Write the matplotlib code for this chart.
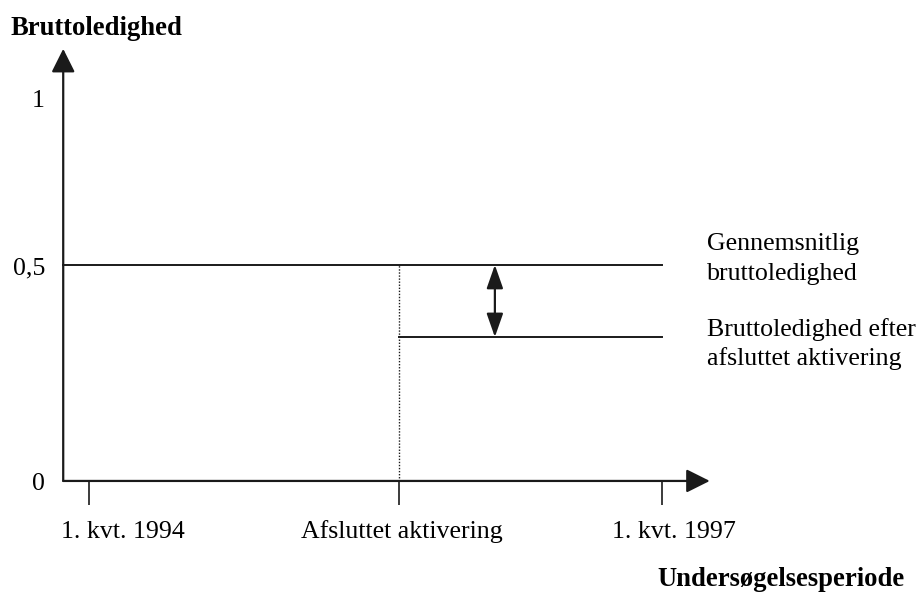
import matplotlib.pyplot as plt
from matplotlib.patches import ArrowStyle

# --- data (schematic: x in quarters from 1. kvt. 1994, y = gross unemployment share) ---
tick_x = [0, 6.5, 12]
tick_labels = ["1. kvt. 1994", "Afsluttet aktivering", "1. kvt. 1997"]
tick_label_x = [0.71, 6.56, 12.25]

ytick_labels = ["0", "0,5", "1"]
ytick_label_y = [-0.021, 0.479, 0.866]

avg_level = 0.5          # gennemsnitlig bruttoledighed
after_level = 0.333      # bruttoledighed efter afsluttet aktivering
activation_x = 6.5
period_end = 12
gap_arrow_x = 8.5

axis_x0, axis_x1 = -0.54, 13.0
axis_y1 = 1.0

right_texts = [("Gennemsnitlig", 0.535), ("bruttoledighed", 0.465),
               ("Bruttoledighed efter", 0.336), ("afsluttet aktivering", 0.269)]

# --- figure ---
plt.rcParams['font.family'] = ['Liberation Serif', 'DejaVu Serif']
fig = plt.figure(figsize=(9.23, 5.92), dpi=100)
ax = fig.add_axes([0, 0, 1, 1])
ax.set_xlim(-1.864, 17.466)
ax.set_ylim(-0.257, 1.113)
ax.axis('off')

fs = 18.6
fs_bold = 19.2
col = '#1a1a1a'

# axes with arrow heads
arrow_kw = dict(arrowstyle=ArrowStyle('-|>', head_length=0.4, head_width=0.2),
                mutation_scale=36, lw=1.6, color=col, shrinkA=0, shrinkB=0)
ax.annotate('', xy=(axis_x0, axis_y1), xytext=(axis_x0, 0), arrowprops=arrow_kw)
ax.annotate('', xy=(axis_x1, 0), xytext=(axis_x0, 0), arrowprops=arrow_kw)

# tick marks on x axis
for x in tick_x:
    ax.plot([x, x], [0, -0.056], color=col, lw=1.2, solid_capstyle='butt')
for x, lab in zip(tick_label_x, tick_labels):
    ax.text(x, -0.132, lab, ha='center', va='baseline', fontsize=fs)

# y labels
for y, lab in zip(ytick_label_y, ytick_labels):
    ax.text(-0.92, y, lab, ha='right', va='baseline', fontsize=fs)

# levels
ax.plot([axis_x0, period_end], [avg_level, avg_level], color=col, lw=1.4)
ax.plot([activation_x, period_end], [after_level, after_level], color=col, lw=1.4)
ax.plot([activation_x, activation_x], [0, avg_level], color=col, lw=1.0,
        linestyle=(0, (1, 1.2)))

# double arrow for the gap
ax.annotate('', xy=(gap_arrow_x, after_level), xytext=(gap_arrow_x, avg_level),
            arrowprops=dict(arrowstyle=ArrowStyle('<|-|>', head_length=0.4,
                                                  head_width=0.14),
                            mutation_scale=36, lw=1.6, color=col,
                            shrinkA=0, shrinkB=0))

for txt, y in right_texts:
    ax.text(12.94, y, txt, ha='left', va='baseline', fontsize=fs)

ax.text(-1.654, 1.033, "Bruttoledighed", ha='left', va='baseline',
        fontsize=fs_bold, fontweight='bold')
ax.text(17.09, -0.243, "Undersøgelsesperiode", ha='right', va='baseline',
        fontsize=fs_bold, fontweight='bold')

fig.savefig('out.png', dpi=100)
